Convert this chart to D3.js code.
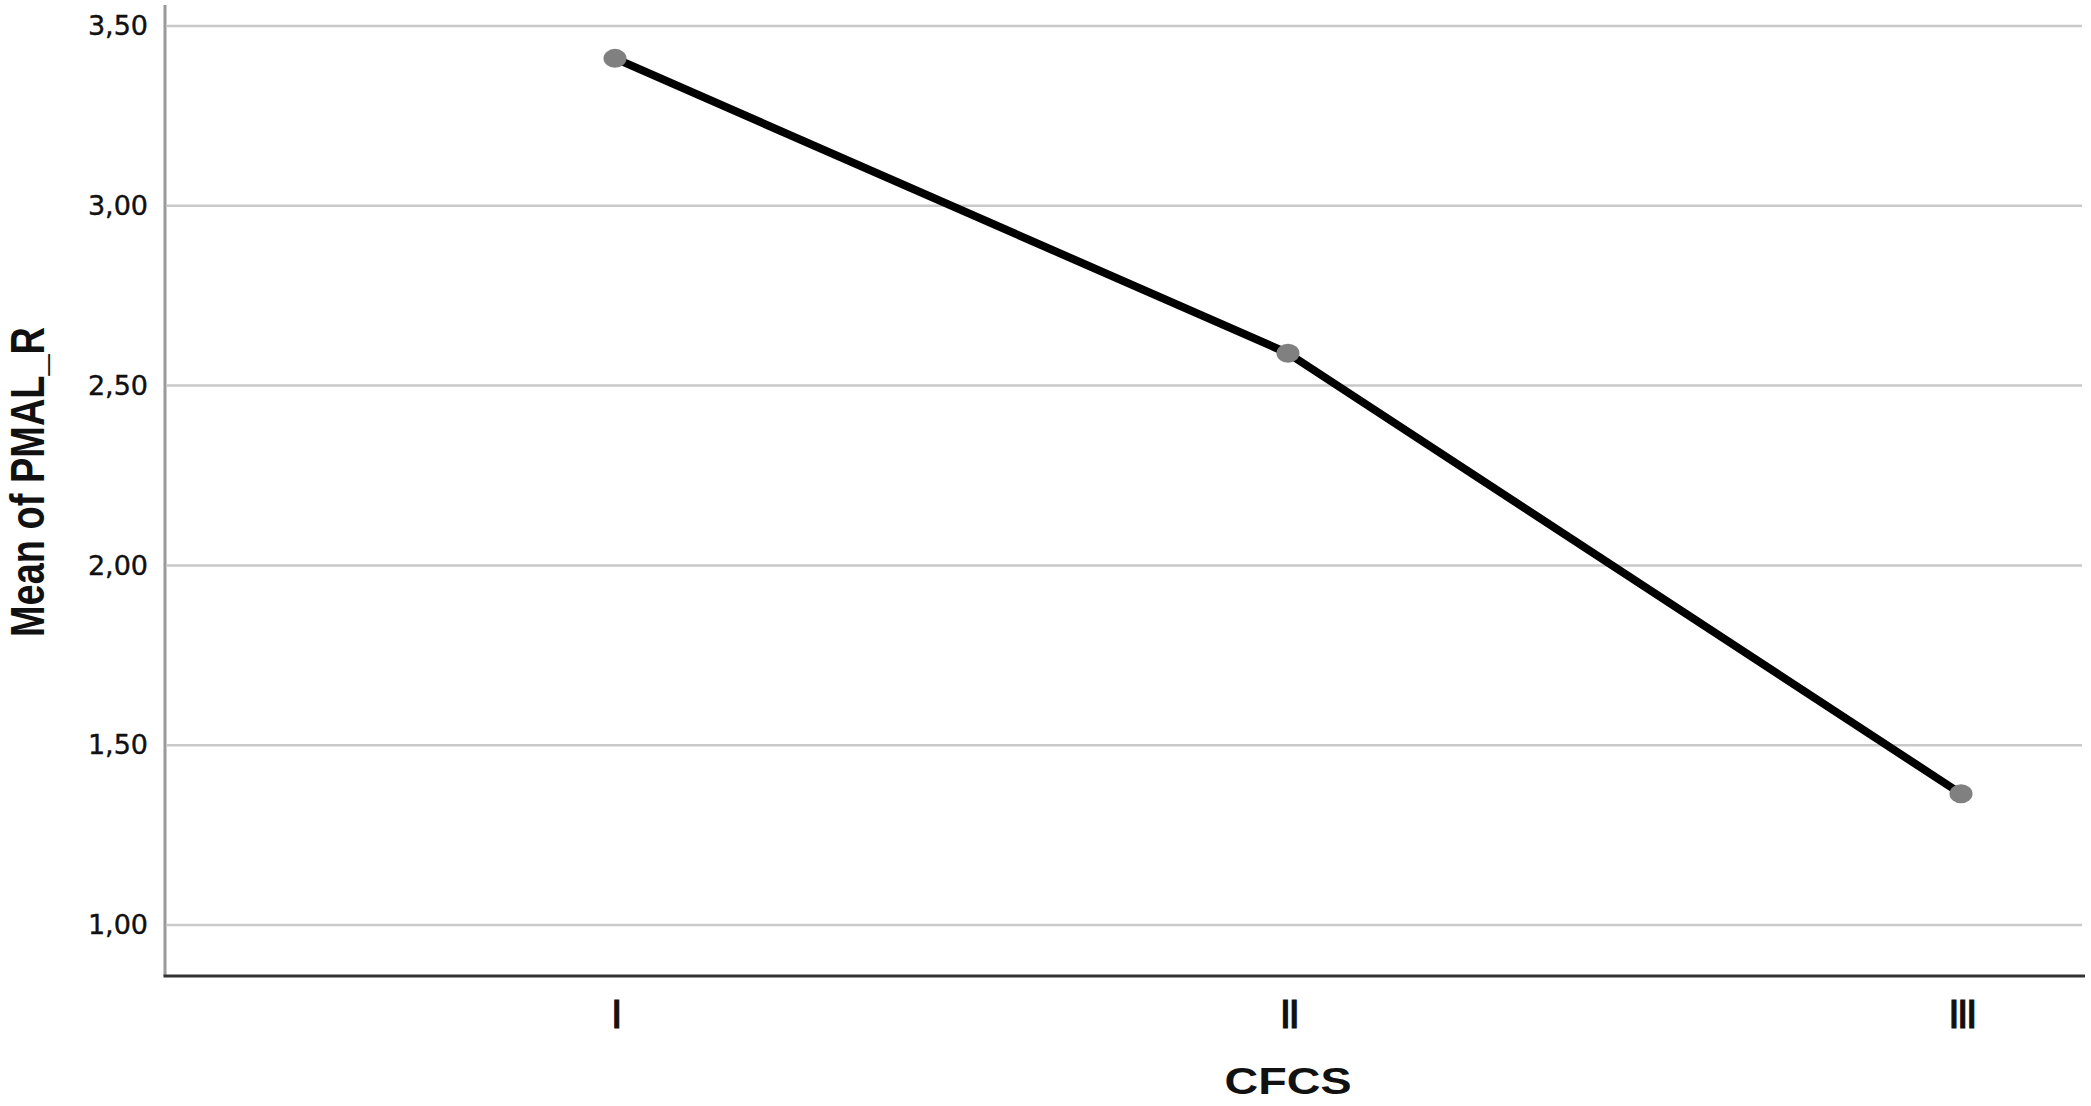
<!DOCTYPE html>
<html>
<head>
<meta charset="utf-8">
<script src="https://cdn.jsdelivr.net/npm/d3@7"></script>
<style>
  html, body { margin: 0; padding: 0; background: #fff; }
  svg { display: block; }
</style>
</head>
<body>
<svg id="chart" width="2091" height="1106"></svg>
<script>
const categories = ["I", "II", "III"];
const means = [3.41, 2.59, 1.365];
const yTicks = [1.0, 1.5, 2.0, 2.5, 3.0, 3.5];
const yTickLabels = ["1,00", "1,50", "2,00", "2,50", "3,00", "3,50"];
const xTitle = "CFCS";
const yTitle = "Mean of PMAL_R";

const svg = d3.select("#chart");
const plotLeft = 165, plotRight = 2085, plotTop = 5, plotBottom = 976;

const x = d3.scalePoint().domain(categories).range([615, 1961]);
const y = d3.scaleLinear().domain([1, 3.5]).range([925, 26]);

// gridlines
svg.append("g").selectAll("line").data(yTicks).join("line")
  .attr("x1", plotLeft + 2).attr("x2", 2082)
  .attr("y1", d => y(d)).attr("y2", d => y(d))
  .attr("stroke", "#c9c9c9").attr("stroke-width", 2.5);

// y axis with labels
const yAxis = d3.axisLeft(y).tickValues(yTicks).tickSize(0).tickPadding(17)
  .tickFormat((d, i) => yTickLabels[i]);
const gy = svg.append("g").attr("transform", `translate(${plotLeft},0)`).call(yAxis);
gy.select(".domain").remove();
gy.selectAll("text")
  .attr("font-family", "'DejaVu Sans', sans-serif")
  .attr("font-size", 27).attr("fill", "#111")
  .attr("stroke", "#111").attr("stroke-width", 0.4);

// axis lines
svg.append("line").attr("x1", plotLeft).attr("x2", plotLeft)
  .attr("y1", plotTop).attr("y2", plotBottom)
  .attr("stroke", "#9a9a9a").attr("stroke-width", 3);
svg.append("line").attr("x1", plotLeft - 1.5).attr("x2", plotRight)
  .attr("y1", plotBottom).attr("y2", plotBottom)
  .attr("stroke", "#333").attr("stroke-width", 3);

// x axis labels
const xAxis = d3.axisBottom(x).tickSize(0).tickPadding(0);
const gx = svg.append("g").attr("transform", `translate(0,${plotBottom})`).call(xAxis);
gx.select(".domain").remove();
gx.selectAll("text")
  .attr("y", 52).attr("dy", 0)
  .attr("font-family", "'Liberation Sans', Arial, sans-serif")
  .attr("font-size", 41).attr("letter-spacing", "-2.6px")
  .attr("fill", "#111").attr("stroke", "#111").attr("stroke-width", 1.2);

// line
const line = d3.line().x((d, i) => x(categories[i])).y(d => y(d));
svg.append("path").datum(means)
  .attr("d", line).attr("fill", "none")
  .attr("stroke", "#000").attr("stroke-width", 8)
  .attr("stroke-linejoin", "round");

// points
svg.append("g").selectAll("ellipse").data(means).join("ellipse")
  .attr("cx", (d, i) => x(categories[i])).attr("cy", d => y(d))
  .attr("rx", 11.5).attr("ry", 9.5)
  .attr("fill", "#808080");

// axis titles
svg.append("text")
  .attr("x", x("II")).attr("y", 1094)
  .attr("text-anchor", "middle")
  .attr("font-family", "'Liberation Sans', Arial, sans-serif")
  .attr("font-weight", "bold").attr("font-size", 36)
  .attr("textLength", 127).attr("lengthAdjust", "spacingAndGlyphs")
  .attr("fill", "#111").text(xTitle);

svg.append("text")
  .attr("transform", `translate(44,482) rotate(-90)`)
  .attr("text-anchor", "middle")
  .attr("font-family", "'Liberation Sans', Arial, sans-serif")
  .attr("font-weight", "bold").attr("font-size", 48)
  .attr("textLength", 310).attr("lengthAdjust", "spacingAndGlyphs")
  .attr("fill", "#111").text(yTitle);
</script>
</body>
</html>
